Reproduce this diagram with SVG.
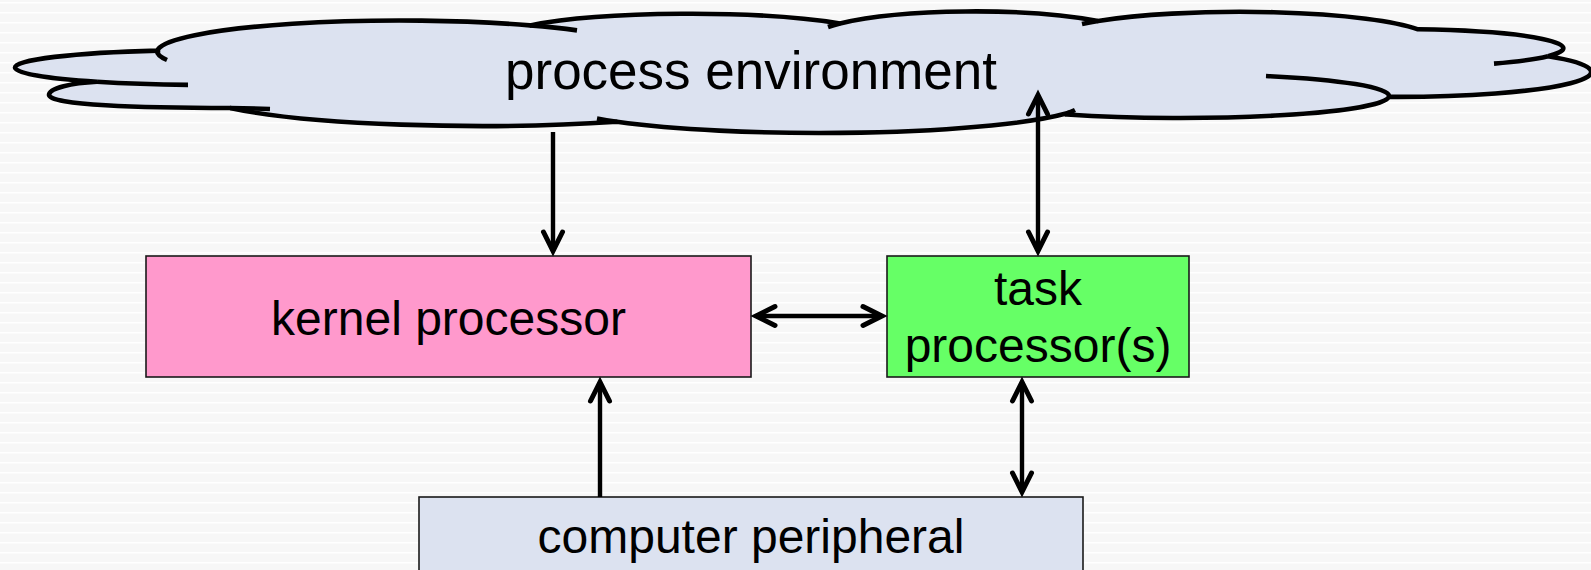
<svg xmlns="http://www.w3.org/2000/svg" width="1591" height="570" viewBox="0 0 1591 570">
  <style>
    .lbl { font-family: "Liberation Sans", Arial, sans-serif; fill: #000; text-anchor: middle; }
    .box { stroke: #1a1a1a; stroke-width: 1.6; }
    .cloud-body { fill: #dce2f0; stroke: #000; stroke-width: 4.6; stroke-linejoin: miter; }
    .cloud-edge { fill: none; stroke: #000; stroke-width: 4.6; stroke-linecap: butt; }
    .wire { fill: none; stroke: #000; stroke-width: 4.4; }
  </style>
  <defs>
    <pattern id="stripes" width="10" height="10" patternUnits="userSpaceOnUse">
      <rect width="10" height="10" fill="#f7f7f7"/>
      <rect y="2" width="10" height="1.6" fill="#ffffff"/>
    </pattern>
    <marker id="head" markerUnits="userSpaceOnUse" viewBox="-30 -15 40 30" refX="0" refY="0"
            markerWidth="40" markerHeight="30" orient="auto-start-reverse" overflow="visible">
      <path d="M-19,-9.5 L0,0 L-19,9.5" fill="none" stroke="#000" stroke-width="5"
            stroke-linecap="round" stroke-linejoin="miter"/>
    </marker>
  </defs>

  <rect width="1591" height="570" fill="url(#stripes)"/>

  <!-- cloud: process environment -->
  <g id="process-environment">
    <path class="cloud-body"
      d="M15,67.5
         A195 17.5 0 0 1 158,50.6
         L158,49.2
         A243 31.5 0 0 1 530,25.4
         A194 26.5 0 0 1 840,23.4
         A165 28.5 0 0 1 1098,21
         A192 28 0 0 1 1418,29.3
         A164 19 0 0 1 1548,56.2
         A194 25 0 0 1 1389,96.9
         L1389,96
         A209 22 0 0 1 1067,114.5
         L1067,113.3
         A270 33 0 0 1 617,121.8
         A289 36 0 0 1 230,108
         C140,108 49,105 49,95
         C49,88 72,83 97,81.8
         A195 17.5 0 0 1 15,67.5 Z"/>
    <!-- inner lobe ends -->
    <path class="cloud-edge" d="M97,81.8 A195 17.5 0 0 0 188,84.9"/>
    <path class="cloud-edge" d="M157,51 A243 31.5 0 0 0 167,60"/>
    <path class="cloud-edge" d="M530,25.4 A243 31.5 0 0 1 577,30.4"/>
    <path class="cloud-edge" d="M840,23.4 A165 28.5 0 0 0 828,27"/>
    <path class="cloud-edge" d="M1098,21 A192 28 0 0 0 1082,24.1"/>
    <path class="cloud-edge" d="M1548,56.2 A164 19 0 0 1 1494,63.6"/>
    <path class="cloud-edge" d="M1389,96 A209 22 0 0 0 1266,76"/>
    <path class="cloud-edge" d="M1067,113.3 A270 33 0 0 0 1075,110"/>
    <path class="cloud-edge" d="M617,121.8 A270 33 0 0 1 597,118.6"/>
    <path class="cloud-edge" d="M230,108 Q250,108.3 270,109"/>
    <text class="lbl" x="751" y="89" font-size="53">process environment</text>
  </g>

  <g id="kernel-processor">
    <rect class="box" x="146" y="256" width="605" height="121" fill="#ff99cc"/>
    <text class="lbl" x="448.5" y="335" font-size="48">kernel processor</text>
  </g>

  <g id="task-processors">
    <rect class="box" x="887" y="256" width="302" height="121" fill="#66ff66"/>
    <text class="lbl" x="1038" y="305" font-size="48">task</text>
    <text class="lbl" x="1038" y="362" font-size="48">processor(s)</text>
  </g>

  <g id="computer-peripheral">
    <rect class="box" x="419" y="497" width="664" height="90" fill="#dce2f0"/>
    <text class="lbl" x="751" y="553" font-size="48">computer peripheral</text>
  </g>

  <g id="connectors">
    <path class="wire" d="M553,132 L553,251" marker-end="url(#head)"/>
    <path class="wire" d="M1038,95 L1038,251" marker-start="url(#head)" marker-end="url(#head)"/>
    <path class="wire" d="M756,316 L882,316" marker-start="url(#head)" marker-end="url(#head)"/>
    <path class="wire" d="M600,497 L600,382" marker-end="url(#head)"/>
    <path class="wire" d="M1022,382 L1022,492" marker-start="url(#head)" marker-end="url(#head)"/>
  </g>
</svg>
